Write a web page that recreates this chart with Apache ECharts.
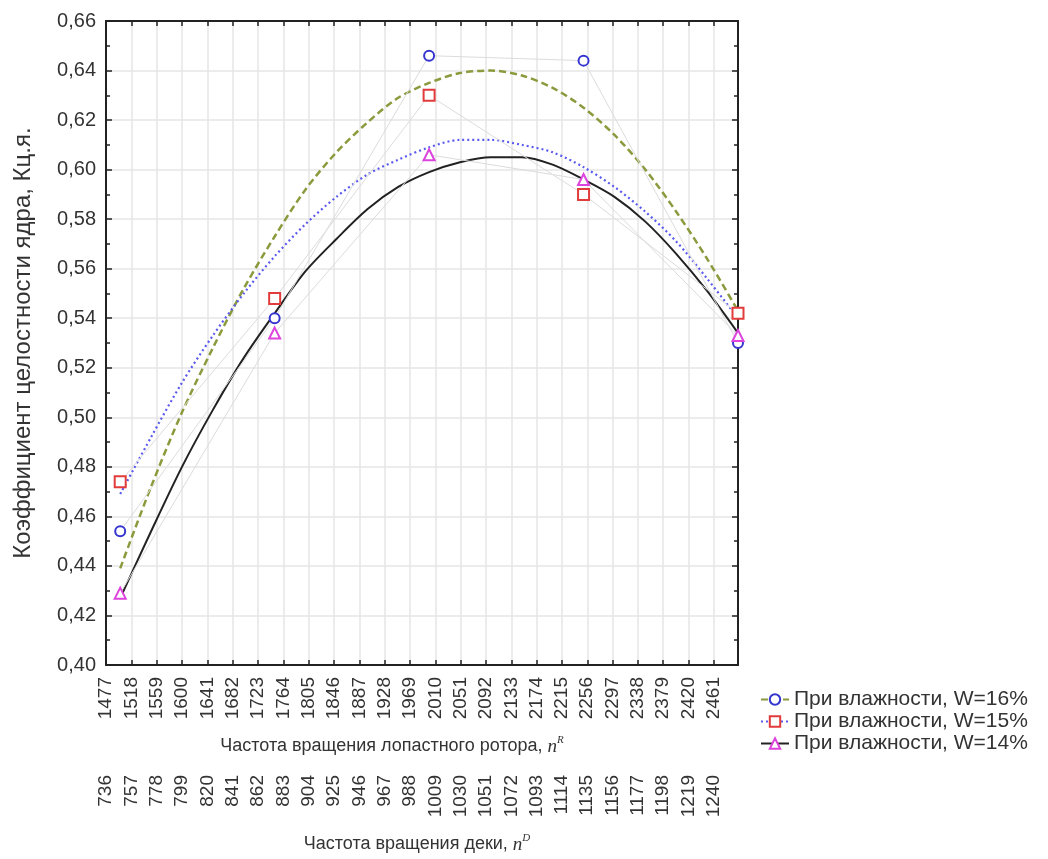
<!DOCTYPE html>
<html><head><meta charset="utf-8">
<script src="https://cdn.jsdelivr.net/npm/echarts@6/dist/echarts.min.js"></script>
<style>html,body{margin:0;padding:0;background:#fff;overflow:hidden}#c{width:1048px;height:859px}</style>
</head><body><div id="c"></div>
<script>
// ---- data ----
const rotorTicks = [1477,1518,1559,1600,1641,1682,1723,1764,1805,1846,1887,1928,1969,2010,2051,2092,2133,2174,2215,2256,2297,2338,2379,2420,2461];
const deckTicks = [736,757,778,799,820,841,862,883,904,925,946,967,988,1009,1030,1051,1072,1093,1114,1135,1156,1177,1198,1219,1240];
const xPoints = [1500,1750,2000,2250,2500];
const w16 = [0.454,0.540,0.646,0.644,0.530];
const w15 = [0.474,0.548,0.630,0.590,0.542];
const w14 = [0.429,0.534,0.606,0.596,0.533];
// fitted curves, every 50 units
const xFit = [1500,1550,1600,1650,1700,1750,1800,1850,1900,1950,2000,2050,2100,2150,2200,2250,2300,2350,2400,2450,2500];
const fit16 = [0.439,0.472,0.502,0.528,0.552,0.573,0.592,0.607,0.619,0.629,0.635,0.639,0.640,0.638,0.633,0.625,0.614,0.600,0.583,0.564,0.543];
const fit15 = [0.469,0.492,0.514,0.533,0.550,0.565,0.578,0.589,0.598,0.604,0.609,0.612,0.612,0.610,0.607,0.601,0.593,0.583,0.571,0.556,0.540];
const fit14 = [0.427,0.454,0.480,0.503,0.524,0.542,0.559,0.572,0.584,0.593,0.599,0.603,0.605,0.605,0.602,0.596,0.589,0.579,0.566,0.551,0.534];
const names = ['При влажности, W=16%','При влажности, W=15%','При влажности, W=14%'];

const xMin = 1477, xMax = 2500;
const dMin = 736, dStep = 21, rStep = 41;
const dMax = dMin + dStep * (xMax - xMin) / rStep;

const pairs = (xs, ys) => xs.map((x, i) => [x, ys[i]]);
const font = 'Liberation Sans, Arial, sans-serif';
const txt = '#333';
const richN = {
  n: { fontFamily: 'Liberation Serif', fontStyle: 'italic', fontSize: 19, color: txt },
  s: { fontFamily: 'Liberation Serif', fontStyle: 'italic', fontSize: 11, color: txt, verticalAlign: 'top', padding: [0,0,12,0] }
};

const chart = echarts.init(document.getElementById('c'), null, { width: 1048, height: 859 });
chart.setOption({
  backgroundColor: '#fff',
  animation: false,
  textStyle: { fontFamily: font },
  grid: { left: 106, right: 310, top: 21, bottom: 191, containLabel: false },
  legend: {
    data: names,
    orient: 'vertical',
    left: 755, top: 684,
    itemWidth: 28, itemHeight: 13, itemGap: 1,
    selectedMode: false,
    textStyle: { fontSize: 21, color: txt, fontFamily: font }
  },
  xAxis: [
    {
      type: 'value', position: 'bottom', min: xMin, max: xMax,
      axisLine: { show: true, onZero: false, lineStyle: { color: '#222', width: 2 } },
      axisTick: { show: true, inside: true, length: 5, customValues: rotorTicks, lineStyle: { color: '#222', width: 1.5 } },
      axisLabel: { show: true, rotate: 90, fontSize: 19, color: txt, margin: 12, customValues: rotorTicks, formatter: v => String(v) },
      splitLine: { show: true, lineStyle: { color: '#e6e6e6', width: 1.5 } },
      name: 'Частота вращения лопастного ротора, {n|n}{s|R}',
      nameLocation: 'middle', nameGap: 70,
      nameTextStyle: { fontSize: 18, color: txt, padding: [0, 60, 0, 0], rich: richN }
    },
    {
      type: 'value', position: 'bottom', offset: 100, min: dMin, max: dMax,
      axisLine: { show: false },
      axisTick: { show: false, customValues: deckTicks },
      axisLabel: { show: true, rotate: 90, fontSize: 19, color: txt, margin: 10, customValues: deckTicks, formatter: v => String(v) },
      splitLine: { show: false },
      name: 'Частота вращения деки, {n|n}{s|D}',
      nameLocation: 'middle', nameGap: 68,
      nameTextStyle: { fontSize: 18, color: txt, padding: [0, 10, 0, 0], rich: richN }
    },
    {
      type: 'value', position: 'top', min: xMin, max: xMax,
      axisLine: { show: true, onZero: false, lineStyle: { color: '#222', width: 2 } },
      axisTick: { show: true, inside: true, length: 5, customValues: rotorTicks, lineStyle: { color: '#222', width: 1.5 } },
      axisLabel: { show: false },
      splitLine: { show: false }
    }
  ],
  yAxis: [
    {
      type: 'value', position: 'left', min: 0.40, max: 0.66, interval: 0.02,
      axisLine: { show: true, onZero: false, lineStyle: { color: '#222', width: 2 } },
      axisTick: { show: true, inside: true, length: 6, lineStyle: { color: '#222', width: 1.5 } },
      minorTick: { show: true, splitNumber: 2, length: 4, lineStyle: { color: '#222', width: 1.5 } },
      axisLabel: { fontSize: 20, color: txt, margin: 10, formatter: v => v.toFixed(2).replace('.', ',') },
      splitLine: { show: true, lineStyle: { color: '#e6e6e6', width: 1.5 } },
      name: 'Коэффициент целостности ядра, Кц.я.',
      nameLocation: 'middle', nameGap: 71, nameRotate: 90,
      nameTextStyle: { fontSize: 24, color: txt }
    },
    {
      type: 'value', position: 'right', min: 0.40, max: 0.66, interval: 0.02,
      axisLine: { show: true, onZero: false, lineStyle: { color: '#222', width: 2 } },
      axisTick: { show: true, inside: true, length: 6, lineStyle: { color: '#222', width: 1.5 } },
      minorTick: { show: true, splitNumber: 2, length: 4, lineStyle: { color: '#222', width: 1.5 } },
      axisLabel: { show: false },
      splitLine: { show: false }
    }
  ],
  series: [
    // raw points joined by thin gray lines
    { name: 'pts16', type: 'line', data: pairs(xPoints, w16), z: 5, symbol: 'emptyCircle', symbolSize: 10,
      itemStyle: { color: '#3535d0', borderWidth: 2 }, lineStyle: { color: '#dcdcdc', width: 1 } },
    { name: 'pts15', type: 'line', data: pairs(xPoints, w15), z: 5, symbol: 'emptyRect', symbolSize: 11,
      itemStyle: { color: '#e23b3b', borderWidth: 2 }, lineStyle: { color: '#dcdcdc', width: 1 } },
    { name: 'pts14', type: 'line', data: pairs(xPoints, w14), z: 5, symbol: 'emptyTriangle', symbolSize: 11,
      itemStyle: { color: '#dd44dd', borderWidth: 2 }, lineStyle: { color: '#dcdcdc', width: 1 } },
    // fitted curves
    { name: names[0], type: 'line', data: pairs(xFit, fit16), smooth: 0.3, showSymbol: false, symbol: 'emptyCircle', z: 4,
      itemStyle: { color: '#3535d0' }, lineStyle: { color: '#8a9a3c', width: 2.5, type: [7, 4] } },
    { name: names[1], type: 'line', data: pairs(xFit, fit15), smooth: 0.3, showSymbol: false, symbol: 'emptyRect', z: 4,
      itemStyle: { color: '#e23b3b' }, lineStyle: { color: '#5a5af0', width: 2.2, type: [2, 3] } },
    { name: names[2], type: 'line', data: pairs(xFit, fit14), smooth: 0.3, showSymbol: false, symbol: 'emptyTriangle', z: 4,
      itemStyle: { color: '#dd44dd' }, lineStyle: { color: '#222', width: 2 } }
  ]
});
</script></body></html>
